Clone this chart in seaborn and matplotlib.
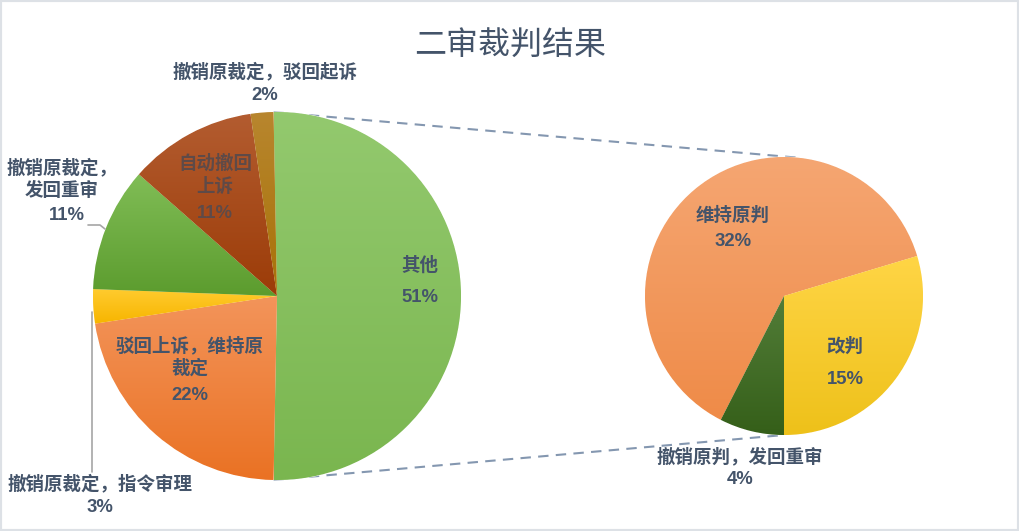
import numpy as np
import matplotlib
matplotlib.use("Agg")
import matplotlib.pyplot as plt
import seaborn as sns
from matplotlib.colors import to_rgb

sns.set_theme(style="white")
plt.rcParams['font.family'] = ['Noto Sans CJK SC', 'DejaVu Sans']

# ---------------- data ----------------
title = "二审裁判结果"
main_labels = ["其他", "驳回上诉，维持原裁定", "撤销原裁定，指令审理",
               "撤销原裁定，发回重审", "自动撤回上诉", "撤销原裁定，驳回起诉"]
main_values = [50.6, 22.3, 3.0, 10.9, 11.2, 2.0]
sub_labels = ["维持原判", "改判", "撤销原判，发回重审"]
sub_values = [31.8, 15.0, 3.8]

main_top = ["#93C96E", "#F3945A", "#FFCB2E", "#80BD56", "#B35C30", "#B8862E"]
main_bot = ["#7AB64F", "#EA7224", "#F7B500", "#5C9C2E", "#9C3C08", "#A87208"]
sub_top = ["#F5A672", "#FFD545", "#527D38"]
sub_bot = ["#EF8B48", "#EEC11A", "#355F19"]

TXT = "#44546A"
W, H = 1019, 531

fig = plt.figure(figsize=(W / 100, H / 100), dpi=100)
ax = fig.add_axes([0, 0, 1, 1])
ax.set_xlim(0, W)
ax.set_ylim(0, H)
ax.set_aspect("equal")
ax.axis("off")


def Y(py):
    return H - py


left_c, left_r = (277, Y(296)), 184
right_c, right_r = (784, Y(296)), 139

total = sum(main_values)
other_frac = main_values[0] / total
left_start = 90 + (other_frac * 360 - 180) / 2
right_start = -90 + 360 * (sub_values[0] + sub_values[1]) / sum(sub_values)


def gradient_fill(wedges, tops, bots):
    for w, t, b in zip(wedges, tops, bots):
        w.set_facecolor(tuple((np.array(to_rgb(t)) + np.array(to_rgb(b))) / 2))
        bb = w.get_path().get_extents(w.get_transform() + ax.transData.inverted())
        n = 64
        t_, b_ = np.array(to_rgb(t)), np.array(to_rgb(b))
        f = np.linspace(0, 1, n)[:, None]
        img = (t_[None, :] * (1 - f) + b_[None, :] * f)[:, None, :]
        im = ax.imshow(img, extent=[bb.x0, bb.x1, bb.y0, bb.y1], origin="upper",
                       aspect="auto", interpolation="bilinear", zorder=2.5)
        im.set_clip_path(w)


wl, _ = ax.pie(main_values, center=left_c, radius=left_r, startangle=left_start,
               counterclock=False, frame=True,
               wedgeprops=dict(edgecolor="white", linewidth=0.6, zorder=2))
gradient_fill(wl, main_top, main_bot)
wr, _ = ax.pie(sub_values, center=right_c, radius=right_r, startangle=right_start,
               counterclock=False, frame=True,
               wedgeprops=dict(edgecolor="white", linewidth=0.6, zorder=2))
gradient_fill(wr, sub_top, sub_bot)
ax.set_xlim(0, W)
ax.set_ylim(0, H)
ax.axis("off")


# connector lines (from the "其他" slice edges to the secondary pie)
def pt(c, r, ang):
    a = np.deg2rad(ang)
    return c[0] + r * np.cos(a), c[1] + r * np.sin(a)


for a1, a2 in [(left_start, 84.6), (left_start - other_frac * 360, -90)]:
    p1 = pt(left_c, left_r, a1)
    p2 = pt(right_c, right_r, a2)
    ax.plot([p1[0], p2[0]], [p1[1], p2[1]], color="#8497B0", lw=1.5,
            ls=(0, (5, 3.5)), zorder=1)

# title
ax.text(510, Y(45), title, ha="center", va="center", fontsize=23, color=TXT)

FS = 13.3


def lab(x, y, s, color=TXT, ls=1.25):
    ax.text(x, Y(y), s, ha="center", va="center", fontsize=FS, color=color,
            fontweight="bold", linespacing=ls, zorder=5)


def pct(x, y, s, color=TXT):
    ax.text(x, Y(y), s, ha="center", va="center", fontsize=FS, color=color,
            fontweight="bold", family=['Liberation Sans', 'DejaVu Sans'], zorder=5)


def fmt(v):
    return f"{round(v / total * 100)}%"


# left pie labels
lab(420, 265, main_labels[0])
pct(420, 297, fmt(main_values[0]))
lab(190, 357, "驳回上诉，维持原\n裁定")
pct(190, 396, fmt(main_values[1]))
lab(100, 484, main_labels[2])
pct(100, 507, fmt(main_values[2]))
lab(62, 179, "撤销原裁定，\n发回重审")
pct(67, 215, fmt(main_values[3]))
lab(215, 175, "自动撤回\n上诉", color="#5E4A48")
pct(215, 213, fmt(main_values[4]), color="#5E4A48")
lab(265, 72, main_labels[5])
pct(265, 95, fmt(main_values[5]))

# right pie labels
lab(733, 215, sub_labels[0])
pct(733, 241, fmt(sub_values[0]))
lab(845, 346, sub_labels[1])
pct(845, 379, fmt(sub_values[1]))
lab(740, 457, sub_labels[2])
pct(740, 479, fmt(sub_values[2]))

# leader lines
ax.plot([92, 92], [Y(312), Y(472)], color="#A6A6A6", lw=1.2, zorder=4)
ax.plot([88, 100, 105], [Y(225), Y(225), Y(229)], color="#A6A6A6", lw=1.2, zorder=4)

# outer border
fig.patches.append(plt.Rectangle((0, 0), 1, 1, transform=fig.transFigure,
                                 fill=False, edgecolor="#DDE1E6", lw=3))

fig.savefig("out.png", dpi=100, facecolor="white")
